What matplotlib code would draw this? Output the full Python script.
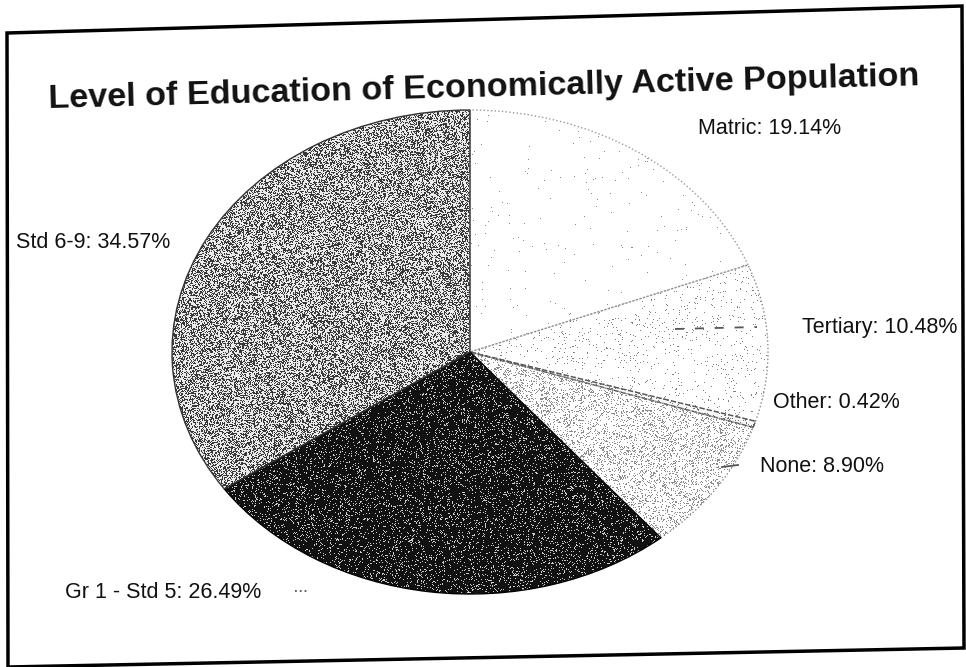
import matplotlib
matplotlib.use("Agg")
import matplotlib.pyplot as plt
import numpy as np
from matplotlib.lines import Line2D
from matplotlib.patches import Polygon

plt.rcParams['font.family'] = ['Liberation Sans', 'DejaVu Sans']

# education levels, clockwise from 12 o'clock
categories = ['Matric', 'Tertiary', 'Other', 'None', 'Gr 1 - Std 5', 'Std 6-9']
shares = [19.14, 10.48, 0.42, 8.90, 26.49, 34.57]

W, H = 966, 667


def fx(x):
    return x / W


def fy(y):
    return 1 - y / H


fig = plt.figure(figsize=(W / 100, H / 100), dpi=100)

# pie sits in an axes that is wider than tall, so the circle becomes an ellipse
cx, cy, rx, ry = 470, 352, 298, 242
ax = fig.add_axes([fx(cx - rx), fy(cy + ry), 2 * rx / W, 2 * ry / H])
wedges, _ = ax.pie(shares, startangle=90, counterclock=False, radius=1,
                   wedgeprops=dict(linewidth=1))
ax.set_aspect('auto')

# (base grey, speck grey, speck fraction, edge colour, edge style)
looks = [
    (1.00, 0.55, 0.004, '#9a9a9a', ':'),
    (1.00, 0.50, 0.035, '#8a8a8a', ':'),
    (0.97, 0.45, 0.12, '#555555', '--'),
    (1.00, 0.55, 0.20, '#888888', ':'),
    (0.07, 0.80, 0.12, '#000000', '-'),
    (0.22, 0.92, 0.56, '#333333', '-'),
]

rng = np.random.default_rng(3)
ny, nx = 2 * ry, 2 * rx
for w, (base, speck, frac, ec, ls) in zip(wedges, looks):
    img = np.where(rng.random((ny, nx)) < frac, speck, base)
    im = ax.imshow(img, cmap='gray', vmin=0, vmax=1, extent=(-1, 1, -1, 1),
                   interpolation='nearest', aspect='auto', zorder=1)
    im.set_clip_path(w)
    w.set_facecolor('none')
    w.set_edgecolor(ec)
    w.set_linestyle(ls)
    w.set_zorder(3)

ax.set_xlim(-1, 1)
ax.set_ylim(-1, 1)
ax.axis('off')

# slice labels
label_pos = {
    'Matric': (698, 128),
    'Tertiary': (802, 327),
    'Other': (773, 403),
    'None': (760, 467),
    'Gr 1 - Std 5': (65, 593),
    'Std 6-9': (16, 242),
}
for name, val in zip(categories, shares):
    x, y = label_pos[name]
    fig.text(fx(x), fy(y), f'{name}: {val:.2f}%', fontsize=15.5,
             ha='left', va='center', color='#111111')

# leader lines
leaders = [
    ((675, 757), (329, 327), (0, (5, 6))),
    ((722, 738), (467, 465), '-'),
    ((295, 308), (591, 591), ':'),
]
for xs, ys, ls in leaders:
    fig.add_artist(Line2D([fx(v) for v in xs], [fy(v) for v in ys],
                          color='#555555', lw=1.3, linestyle=ls))

fig.text(fx(484), fy(88), 'Level of Education of Economically Active Population',
         fontsize=24.6, fontweight='bold', ha='center', va='center',
         rotation=1.5, color='#111111')

# chart border
corners = [(7, 33), (962, 6), (964, 648), (8, 667)]
fig.add_artist(Polygon([(fx(x), fy(y)) for x, y in corners], closed=True,
                       fill=False, edgecolor='black', lw=2.5,
                       transform=fig.transFigure))

fig.savefig('out.png', dpi=100)
